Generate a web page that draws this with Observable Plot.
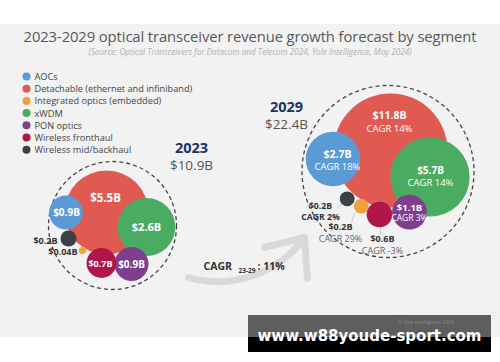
<!DOCTYPE html>
<html>
<head>
<meta charset="utf-8">
<script src="https://cdn.jsdelivr.net/npm/d3@7"></script>
<script src="https://cdn.jsdelivr.net/npm/@observablehq/plot@0.6"></script>
<style>
  html, body { margin: 0; padding: 0; background: #fff; }
  #wrap { position: relative; width: 500px; height: 362px; overflow: hidden; background: #fff; font-family: "Open Sans", sans-serif; }
  #panel { position: absolute; left: 0; top: 24px; width: 500px; height: 313px; background: #f2f2f2; }
  #title { position: absolute; left: 0; width: 500px; top: 26px; text-align: center; font-size: 14.8px; color: #585858; line-height: 20px; letter-spacing: -0.1px; white-space: nowrap; }
  #subtitle { position: absolute; left: 0; width: 500px; top: 46px; text-align: center; font-size: 8.2px; font-style: italic; color: #b0b0b0; line-height: 11px; white-space: nowrap; }
  .chart { position: absolute; left: 0; top: 60px; }
  #wm1 { position: absolute; left: 248px; top: 315px; width: 243px; height: 22px; background: #5e5e5e; }
  #wm2 { position: absolute; left: 248px; top: 337px; width: 243px; height: 15px; background: #000; }
  #wmsmall { position: absolute; left: 398px; top: 319px; font-size: 5px; color: #8a8a8a; line-height: 6px; white-space: nowrap; }
  #wmtext { position: absolute; left: 248px; width: 243px; top: 325px; text-align: center; font-family: "DejaVu Sans", sans-serif; font-weight: bold; font-size: 15px; color: #fff; line-height: 22px; white-space: nowrap; }
</style>
</head>
<body>
<div id="wrap">
  <div id="panel"></div>
  <div id="title"></div>
  <div id="subtitle"></div>
  <div id="chartA" class="chart"></div>
  <div id="chartB" class="chart"></div>
  <div id="wm1"></div>
  <div id="wm2"></div>
  <div id="wmsmall">© Yole Intelligence 2024</div>
  <div id="wmtext">www.w88youde-sport.com</div>
</div>
<script>
// ---------- DATA ----------
const titleText = "2023-2029 optical transceiver revenue growth forecast by segment";
const subtitleText = "(Source: Optical Transceivers for Datacom and Telecom 2024, Yole Intelligence, May 2024)";
const segments = ["AOCs", "Detachable (ethernet and infiniband)", "Integrated optics (embedded)", "xWDM", "PON optics", "Wireless fronthaul", "Wireless mid/backhaul"];
const segColors = ["#5b9bd5", "#e05a52", "#f0a23a", "#4aab62", "#7e3f8c", "#b0164a", "#3b4047"];
const rev2023 = [0.9, 5.5, 0.04, 2.6, 0.9, 0.7, 0.2];
const rev2029 = [2.7, 11.8, 0.2, 5.7, 1.1, 0.6, 0.2];
const cagr2329 = [18, 14, 29, 14, 3, -3, 2];
const years = ["2023", "2029"];
const yearTotals = [10.9, 22.4];
const totalCagr = 11;
const cagrPeriod = "23-29";

// ---------- LAYOUT (page pixel positions, kept apart from data) ----------
const bubble2023 = [[65.5, 212], [106, 212], [82, 250], [146, 226.5], [131, 263.5], [101, 262.5], [68, 238]];
const bubble2029 = [[332.5, 158.5], [390, 150], [360.7, 205.7], [429.5, 176.5], [409, 211.7], [379, 214], [346.7, 198.3]];
// label: [x, y, anchor, size, inside]
const label2023 = [[66, 212.5, "middle", 10, true], [105, 198, "middle", 11.5, true], [77, 252, "end", 9, false], [146, 227, "middle", 11, true], [131, 264, "middle", 10, true], [100, 264, "middle", 9, true], [57, 241, "end", 9, false]];
// [x, y1, y2, size1, size2, mode]
const label2029 = [[337, 154, 166.5, 10.5, 9.5, "in"], [389, 115.5, 128, 10.5, 9.5, "in"], [340, 227, 239, 9, 9, "outgray"], [430, 170.5, 182, 10, 9.5, "in"], [409, 207, 217.5, 9.5, 8.5, "in"], [382, 239, 250.5, 9, 9, "outgray"], [320, 206, 217, 8.7, 8.7, "outbold"]];
const leaders2029 = [[2, 354, 212, 351, 222], [5, 380, 227, 380, 234], [6, 342, 203, 337, 207]];
const cluster = [{x: 112, y: 225}, {x: 387.5, y: 171}];
const clusterR = [64, 86];
const legendX = 26, legendTextX = 34, legendY0 = 76, legendStep = 12.2, legendDotR = 4;
const heading = [{x: 191, y1: 148, y2: 165}, {x: 286, y1: 107, y2: 124.5}];

const money = v => "$" + v + "B";
const FONT = "Open Sans";

document.getElementById("title").textContent = titleText;
document.getElementById("subtitle").textContent = subtitleText;

function base(rMax, rRange, marks) {
  return Plot.plot({
    width: 500, height: 277, margin: 0,
    x: {domain: [0, 500], range: [0, 500], axis: null},
    y: {domain: [60, 337], range: [0, 277], axis: null},
    r: {domain: [0, rMax], range: [0, rRange]},
    color: {domain: segments, range: segColors},
    style: {background: "transparent", overflow: "visible", fontFamily: FONT},
    marks
  });
}

// ---------- 2023 chart (with legend) ----------
const d2023 = segments.map((s, i) => ({seg: s, v: rev2023[i], x: bubble2023[i][0], y: bubble2023[i][1], lx: label2023[i][0], ly: label2023[i][1], ls: label2023[i][3], inside: label2023[i][4]}));
const legendRows = segments.map((s, i) => ({seg: s, i}));

const chartA = base(5.5, 42, [
  // legend
  Plot.dot(legendRows, {x: () => legendX, y: d => legendY0 + d.i * legendStep, r: legendDotR, fill: "seg"}),
  Plot.text(legendRows, {x: () => legendTextX, y: d => legendY0 + 0.5 + d.i * legendStep, text: "seg", textAnchor: "start", fontSize: 9.2, fill: "#444", fontFamily: FONT}),
  // dashed enclosure
  Plot.dot([cluster[0]], {x: "x", y: "y", r: clusterR[0], stroke: "#454545", strokeWidth: 1.3, strokeDasharray: "4,3", fill: "none"}),
  // bubbles
  Plot.dot(d2023, {x: "x", y: "y", r: "v", fill: "seg"}),
  // labels
  Plot.text(d2023.filter(d => d.inside), {x: "lx", y: "ly", text: d => money(d.v), fontSize: "ls", textAnchor: "middle", fill: "white", fontWeight: "bold", fontFamily: FONT}),
  Plot.text(d2023.filter(d => !d.inside), {x: "lx", y: "ly", text: d => money(d.v), fontSize: "ls", textAnchor: "end", fill: "#333", fontWeight: "bold", fontFamily: FONT}),
  // heading
  Plot.text([heading[0]], {x: "x", y: "y1", text: () => years[0], fontSize: 14.5, fontWeight: "bold", fill: "#1f3461", fontFamily: FONT}),
  Plot.text([heading[0]], {x: "x", y: "y2", text: () => money(yearTotals[0]), fontSize: 13.5, fill: "#555", fontFamily: FONT})
]);

// ---------- 2029 chart (with arrow) ----------
const d2029 = segments.map((s, i) => ({seg: s, v: rev2029[i], c: cagr2329[i], x: bubble2029[i][0], y: bubble2029[i][1], lx: label2029[i][0], y1: label2029[i][1], y2: label2029[i][2], s1: label2029[i][3], s2: label2029[i][4], mode: label2029[i][5]}));
const leaders = leaders2029.map(([i, x1, y1, x2, y2]) => ({seg: segments[i], x1, y1, x2, y2}));
const inside = d2029.filter(d => d.mode === "in");
const outG = d2029.filter(d => d.mode === "outgray");
const outB = d2029.filter(d => d.mode === "outbold");

const chartB = base(11.8, 57, [
  // growth arrow
  Plot.arrow([{x1: 188, y1: 277, x2: 304, y2: 237}], {x1: "x1", y1: "y1", x2: "x2", y2: "y2", bend: -35, stroke: "#d9d9d9", strokeWidth: 7, headLength: 11, headAngle: 80}),
  Plot.text([{x: 203, y: 266}], {x: "x", y: "y", text: () => "CAGR", textAnchor: "start", fontSize: 10.5, fontWeight: "bold", fill: "#333", fontFamily: FONT}),
  Plot.text([{x: 238, y: 270}], {x: "x", y: "y", text: () => cagrPeriod, textAnchor: "start", fontSize: 6.5, fontWeight: "bold", fill: "#333", fontFamily: FONT}),
  Plot.text([{x: 257, y: 266}], {x: "x", y: "y", text: () => ": " + totalCagr + "%", textAnchor: "start", fontSize: 10.5, fontWeight: "bold", fill: "#333", fontFamily: FONT}),
  // dashed enclosure
  Plot.dot([cluster[1]], {x: "x", y: "y", r: clusterR[1], stroke: "#454545", strokeWidth: 1.3, strokeDasharray: "4,3", fill: "none"}),
  // leaders
  Plot.link(leaders, {x1: "x1", y1: "y1", x2: "x2", y2: "y2", stroke: "#bbb", strokeWidth: 0.8}),
  // bubbles
  Plot.dot(d2029, {x: "x", y: "y", r: "v", fill: "seg"}),
  // labels
  Plot.text(inside, {x: "lx", y: "y1", text: d => money(d.v), fontSize: "s1", fill: "white", fontWeight: "bold", fontFamily: FONT}),
  Plot.text(inside, {x: "lx", y: "y2", text: d => "CAGR " + d.c + "%", fontSize: "s2", fill: "white", fontFamily: FONT}),
  Plot.text(outG, {x: "lx", y: "y1", text: d => money(d.v), fontSize: "s1", fill: "#333", fontWeight: "bold", fontFamily: FONT}),
  Plot.text(outG, {x: "lx", y: "y2", text: d => "CAGR " + d.c + "%", fontSize: "s2", fill: "#666", fontFamily: FONT}),
  Plot.text(outB, {x: "lx", y: "y1", text: d => money(d.v), fontSize: "s1", fill: "#333", fontWeight: "bold", fontFamily: FONT}),
  Plot.text(outB, {x: "lx", y: "y2", text: d => "CAGR " + d.c + "%", fontSize: "s2", fill: "#333", fontWeight: "bold", fontFamily: FONT}),
  // heading
  Plot.text([heading[1]], {x: "x", y: "y1", text: () => years[1], fontSize: 14.5, fontWeight: "bold", fill: "#1f3461", fontFamily: FONT}),
  Plot.text([heading[1]], {x: "x", y: "y2", text: () => money(yearTotals[1]), fontSize: 13.5, fill: "#555", fontFamily: FONT})
]);

document.getElementById("chartA").appendChild(chartA);
document.getElementById("chartB").appendChild(chartB);
</script>
</body>
</html>
